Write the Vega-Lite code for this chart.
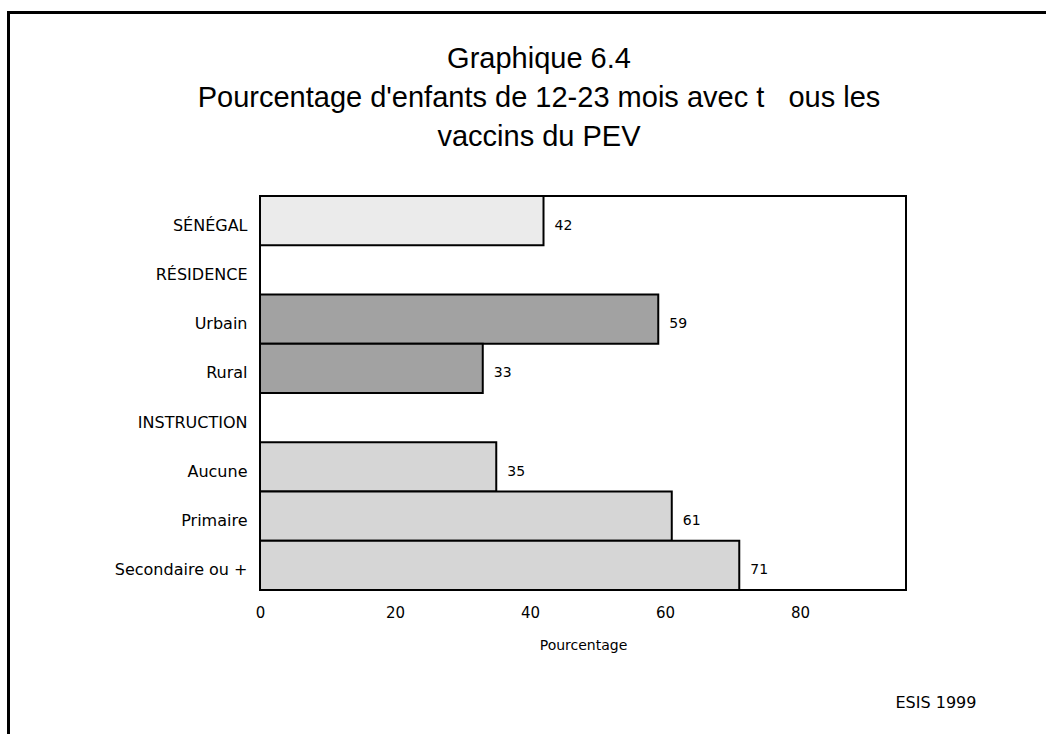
{
  "$schema": "https://vega.github.io/schema/vega-lite/v6.json",
  "width": 646,
  "height": 394,
  "autosize": {"type": "none"},
  "padding": {"left": 260, "top": 196, "right": 140, "bottom": 144},
  "background": "white",
  "title": {
    "text": ["Graphique 6.4", "Pourcentage d'enfants de 12-23 mois avec t\u00a0\u00a0\u00a0ous les", "vaccins du PEV"],
    "anchor": "middle",
    "dx": -44,
    "font": "Liberation Sans",
    "fontSize": 29,
    "fontWeight": "normal",
    "color": "black",
    "lineHeight": 39,
    "offset": -141
  },
  "data": {
    "values": [
      {"cat": "SÉNÉGAL", "group": "SÉNÉGAL", "value": 42},
      {"cat": "Urbain", "group": "RÉSIDENCE", "value": 59},
      {"cat": "Rural", "group": "RÉSIDENCE", "value": 33},
      {"cat": "Aucune", "group": "INSTRUCTION", "value": 35},
      {"cat": "Primaire", "group": "INSTRUCTION", "value": 61},
      {"cat": "Secondaire ou +", "group": "INSTRUCTION", "value": 71}
    ]
  },
  "encoding": {
    "y": {
      "field": "cat",
      "type": "nominal",
      "sort": null,
      "scale": {
        "domain": ["SÉNÉGAL", "RÉSIDENCE", "Urbain", "Rural", "INSTRUCTION", "Aucune", "Primaire", "Secondaire ou +"],
        "paddingInner": 0,
        "paddingOuter": 0
      },
      "axis": {
        "title": "ESIS 1999",
        "titleAngle": 0,
        "titleX": 635,
        "titleY": 506,
        "titleAlign": "left",
        "titleBaseline": "middle",
        "titleFont": "DejaVu Sans",
        "titleFontSize": 16,
        "titleFontWeight": "normal",
        "titleColor": "black",
        "domain": false,
        "ticks": false,
        "grid": false,
        "labelPadding": 13,
        "labelOffset": 5,
        "labelFont": "DejaVu Sans",
        "labelFontSize": 16,
        "labelColor": "black",
        "labelLimit": 300
      }
    }
  },
  "layer": [
    {
      "mark": {"type": "bar", "stroke": "black", "strokeWidth": 2},
      "encoding": {
        "x": {
          "field": "value",
          "type": "quantitative",
          "scale": {"domain": [0, 95.7], "nice": false, "zero": true},
          "axis": {
            "title": "Pourcentage",
            "values": [0, 20, 40, 60, 80],
            "domain": false,
            "ticks": false,
            "grid": false,
            "labelFlush": false,
            "labelPadding": 15,
            "labelFont": "DejaVu Sans",
            "labelFontSize": 15,
            "labelColor": "black",
            "titleFont": "DejaVu Sans",
            "titleFontSize": 14,
            "titleFontWeight": "normal",
            "titleColor": "black",
            "titlePadding": 18
          }
        },
        "color": {
          "field": "group",
          "type": "nominal",
          "scale": {
            "domain": ["SÉNÉGAL", "RÉSIDENCE", "INSTRUCTION"],
            "range": ["#ebebeb", "#a2a2a2", "#d6d6d6"]
          },
          "legend": {
            "orient": "none",
            "legendX": -251.5,
            "legendY": -183.5,
            "padding": 700,
            "strokeColor": "black",
            "title": null,
            "symbolOpacity": 0,
            "symbolSize": 0,
            "labelExpr": "''",
            "labelOpacity": 0
          }
        }
      }
    },
    {
      "mark": {"type": "text", "align": "left", "baseline": "middle", "dx": 11, "dy": 5, "font": "DejaVu Sans", "fontSize": 14, "color": "black"},
      "encoding": {
        "x": {"field": "value", "type": "quantitative"},
        "text": {"field": "value", "type": "quantitative"}
      }
    }
  ],
  "config": {
    "view": {"stroke": "black", "strokeWidth": 2},
    "legend": {"strokeWidth": 3}
  }
}
